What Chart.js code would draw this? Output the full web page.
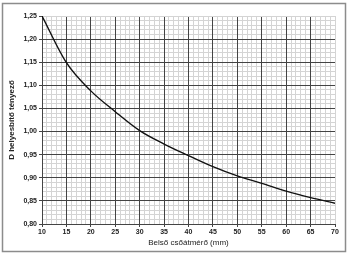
<!DOCTYPE html>
<html>
<head>
<meta charset="utf-8">
<script src="https://cdn.jsdelivr.net/npm/chart.js@4.4.1/dist/chart.umd.min.js"></script>
<style>
html,body{margin:0;padding:0;background:#fff;}
#wrap{position:absolute;left:0;top:0;width:350px;height:254px;}
</style>
</head>
<body>
<div id="wrap"><canvas id="c" width="350" height="254"></canvas></div>
<script>
const diameters = [10, 15, 20, 25, 30, 35, 40, 45, 50, 55, 60, 65, 70];
const factors = [1.25, 1.149, 1.088, 1.043, 1.002, 0.973, 0.948, 0.924, 0.904, 0.888, 0.871, 0.857, 0.845];
const xTitle = 'Belső csőátmérő (mm)';
const yTitle = 'D helyesbítő tényező';

const MAJOR = '#444';
const MINOR = '#d4d4d4';
const FONT = 'Liberation Sans, Arial, sans-serif';

const frame = {
  id: 'frame',
  afterDraw(chart) {
    const c = chart.ctx;
    c.save();
    c.strokeStyle = '#8c8c8c';
    c.lineWidth = 1.5;
    c.strokeRect(2.5, 3.5, 343, 248);
    c.restore();
  }
};

const minorAxis = (axis, min, max, step) => ({
  type: 'linear', axis: axis, position: axis === 'x' ? 'bottom' : 'left',
  min: min, max: max,
  afterFit: s => { if (axis === 'x') s.height = 0; else s.width = 0; },
  ticks: {display: false, stepSize: step, autoSkip: false, maxTicksLimit: 200},
  grid: {color: MINOR, drawTicks: false, z: -2, lineWidth: 1},
  border: {display: false}
});

new Chart(document.getElementById('c'), {
  type: 'line',
  data: {
    datasets: [{
      data: diameters.map((d, i) => ({x: d, y: factors[i]})),
      xAxisID: 'x', yAxisID: 'y',
      borderColor: '#111',
      borderWidth: 1.4,
      pointRadius: 0,
      fill: false,
      cubicInterpolationMode: 'monotone'
    }]
  },
  options: {
    responsive: false,
    animation: false,
    devicePixelRatio: 1,
    layout: {padding: {left: 0, right: 15, top: 16, bottom: 0}},
    plugins: {legend: {display: false}, tooltip: {enabled: false}},
    scales: {
      xm: minorAxis('x', 10, 70, 1),
      ym: minorAxis('y', 0.8, 1.25, 0.01),
      x: {
        type: 'linear', position: 'bottom',
        min: 10, max: 70,
        afterFit: s => { s.height = 30; },
        ticks: {
          stepSize: 5, autoSkip: false, maxRotation: 0,
          padding: 1,
          font: {family: FONT, size: 7, weight: 'bold'},
          color: '#222'
        },
        grid: {
          color: ctx => (ctx.tick && ctx.tick.value === 70) ? MINOR : MAJOR,
          tickColor: MAJOR,
          tickLength: 3,
          lineWidth: 1
        },
        border: {color: MAJOR, width: 1},
        title: {
          display: true, text: xTitle, padding: {top: 0, bottom: 6},
          font: {family: FONT, size: 8}, color: '#222'
        }
      },
      y: {
        type: 'linear', position: 'left',
        min: 0.8, max: 1.25,
        afterFit: s => { s.width = 42; },
        ticks: {
          stepSize: 0.05, autoSkip: false,
          padding: 2,
          font: {family: FONT, size: 7, weight: 'bold'},
          color: '#222',
          callback: v => v.toFixed(2).replace('.', ',')
        },
        grid: {
          color: ctx => (ctx.tick && Math.round(ctx.tick.value * 100) === 125) ? MINOR : MAJOR,
          tickColor: MAJOR,
          tickLength: 3,
          lineWidth: 1
        },
        border: {color: MAJOR, width: 1},
        title: {
          display: true, text: yTitle, padding: {top: 7, bottom: 0},
          font: {family: FONT, size: 8, weight: 'bold'}, color: '#222'
        }
      }
    }
  },
  plugins: [frame]
});
</script>
</body>
</html>
